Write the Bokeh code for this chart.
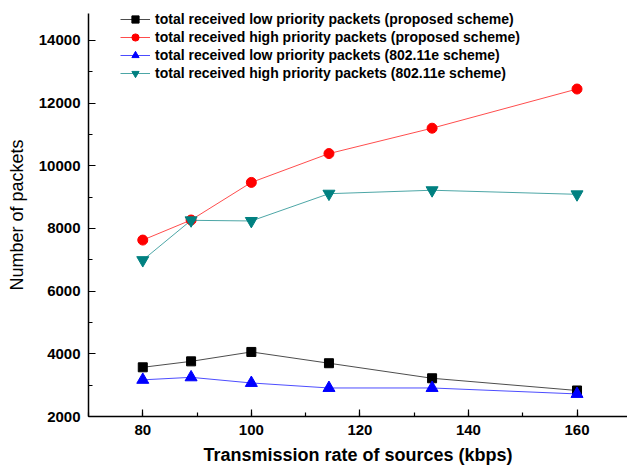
from bokeh.plotting import figure
from bokeh.models import Range1d, SingleIntervalTicker, Legend, LegendItem
from bokeh.embed import file_html
from bokeh.resources import INLINE

# ---- data ----
rates = [80, 88.9, 100, 114.3, 133.3, 160]
low_proposed = [3570, 3760, 4060, 3700, 3220, 2830]
high_proposed = [7630, 8270, 9470, 10390, 11200, 12450]
low_80211e = [3170, 3250, 3070, 2910, 2910, 2720]
high_80211e = [6990, 8260, 8240, 9110, 9220, 9090]

labels = [
    "total received low priority packets (proposed scheme)",
    "total received high priority packets (proposed scheme)",
    "total received low priority packets (802.11e scheme)",
    "total received high priority packets (802.11e scheme)",
]

FONT = "Liberation Sans"

p = figure(width=627, height=473, output_backend="svg", toolbar_location=None,
           x_range=Range1d(70, 169.3), y_range=Range1d(2000, 14860),
           min_border_left=88, min_border_right=0, min_border_top=13,
           min_border_bottom=57)

p.outline_line_color = None
p.xgrid.grid_line_color = None
p.ygrid.grid_line_color = None
p.background_fill_color = "white"

series = [
    (low_proposed, "black", "square", 9),
    (high_proposed, "red", "circle", 10),
    (low_80211e, "blue", "triangle", 12),
    (high_80211e, "#008080", "inverted_triangle", 12),
]

items = []
for (vals, col, mk, sz), lab in zip(series, labels):
    r1 = p.line(rates, vals, line_color=col, line_width=1, line_alpha=0.7)
    r2 = p.scatter(rates, vals, marker=mk, size=sz, fill_color=col, line_color=col)
    items.append(LegendItem(label=lab, renderers=[r1, r2]))

legend = Legend(items=items, location=(32, 334), padding=0, margin=0, spacing=0,
                glyph_width=30, glyph_height=18, label_height=18, label_standoff=5,
                label_text_font=FONT, label_text_font_style="bold",
                label_text_font_size="14px", label_text_color="black",
                background_fill_alpha=0, border_line_color=None)
p.add_layout(legend, "center")

# axes
p.xaxis.ticker = SingleIntervalTicker(interval=20, num_minor_ticks=2)
p.yaxis.ticker = SingleIntervalTicker(interval=2000, num_minor_ticks=2)
for ax in (p.xaxis[0], p.yaxis[0]):
    ax.axis_line_width = 1.5
    ax.axis_line_color = "black"
    ax.major_tick_in = 7
    ax.major_tick_out = 0
    ax.minor_tick_in = 4
    ax.minor_tick_out = 0
    ax.major_tick_line_color = "black"
    ax.minor_tick_line_color = "black"
    ax.major_tick_line_width = 1.2
    ax.minor_tick_line_width = 1.2
    ax.major_label_text_font = FONT
    ax.major_label_text_font_style = "bold"
    ax.major_label_text_font_size = "15px"
    ax.major_label_text_color = "black"
    ax.major_label_standoff = 8
    ax.axis_label_text_font = FONT
    ax.axis_label_text_font_size = "18px"
    ax.axis_label_text_color = "black"

p.xaxis.axis_label = "Transmission rate of sources (kbps)"
p.xaxis.axis_label_text_font_style = "bold"
p.xaxis.axis_label_standoff = 7
p.yaxis.axis_label = "Number of packets"
p.yaxis.axis_label_text_font_style = "normal"
p.yaxis.axis_label_standoff = 9

open("out.html", "w").write(file_html(p, INLINE))
